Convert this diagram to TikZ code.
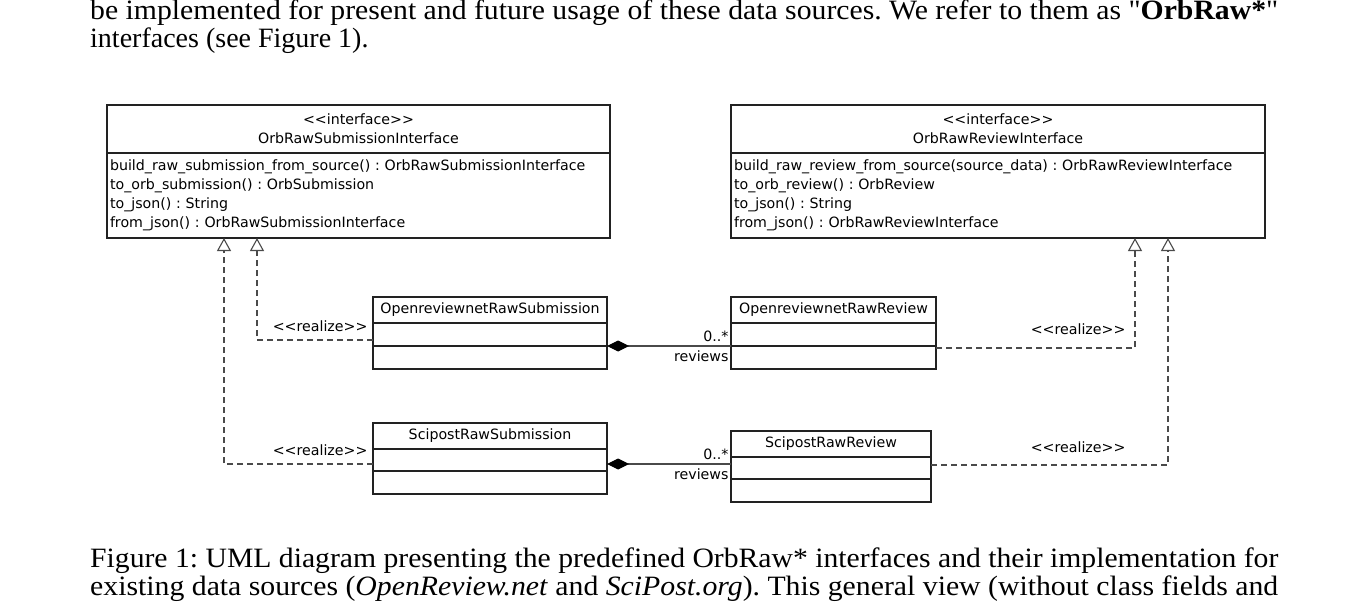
\documentclass[tikz,border=0pt]{standalone}
\usepackage{fontspec}
\usepackage{graphicx}
\setmainfont{Liberation Serif}[Ligatures=TeXOff]
\newfontfamily\umlfont{DejaVu Sans}
\usetikzlibrary{arrows.meta,positioning}
\newcommand{\stereo}[1]{\textless\textless#1\textgreater\textgreater}
\definecolor{umlline}{HTML}{222222}
\definecolor{linkgray}{HTML}{4A4A4A}

\begin{document}
\frenchspacing
\begin{tikzpicture}[x=1pt,y=-1pt,>=Stealth,
  box/.style={draw=umlline,line width=1.1pt,fill=white,inner sep=0pt,outer sep=0pt,
    font=\umlfont\fontsize{14.2}{19}\selectfont},
  realize/.style={draw=linkgray,line width=1.1pt,dash pattern=on 6pt off 4pt,
    -{Triangle[open,length=13pt,width=14pt,fill=white]}},
  compose/.style={draw=linkgray,line width=1.1pt,{Diamond[length=22pt,width=11pt,black]}-},
  lbl/.style={font=\umlfont\fontsize{14.2}{17}\selectfont,inner xsep=2pt,inner ysep=4pt},
  paper/.style={font=\fontsize{28}{28}\selectfont,inner sep=0pt}]
  \useasboundingbox[fill=white] (0,0) rectangle (1368,615);

  % surrounding text of the page
  \node[paper,anchor=base west] (txtA) at (90,20)
    {\resizebox{1188pt}{\height}{be implemented for present and future usage of these data sources. We refer to them as "\textbf{OrbRaw*}"}};
  \node[paper,anchor=base west] (txtB) at (90,48) {interfaces (see Figure 1).};

  % interfaces
  \node[box,anchor=north west,minimum width=503pt,minimum height=48pt,align=center]
    (subhead) at (107,105) {\stereo{interface}\\OrbRawSubmissionInterface};
  \node[box,below=0pt of subhead,minimum width=503pt,minimum height=85pt,
    text width=497pt,align=left] (submeth)
    {build\_raw\_submission\_from\_source() : OrbRawSubmissionInterface\\
     to\_orb\_submission() : OrbSubmission\\
     to\_json() : String\\
     from\_json() : OrbRawSubmissionInterface};

  \node[box,anchor=north west,minimum width=534pt,minimum height=48pt,align=center]
    (revhead) at (731,105) {\stereo{interface}\\OrbRawReviewInterface};
  \node[box,below=0pt of revhead,minimum width=534pt,minimum height=85pt,
    text width=528pt,align=left] (revmeth)
    {build\_raw\_review\_from\_source(source\_data) : OrbRawReviewInterface\\
     to\_orb\_review() : OrbReview\\
     to\_json() : String\\
     from\_json() : OrbRawReviewInterface};

  % implementing classes
  \node[box,anchor=north west,minimum width=234pt,minimum height=26pt]
    (osubhead) at (373,297) {OpenreviewnetRawSubmission};
  \node[box,below=0pt of osubhead,minimum width=234pt,minimum height=23pt] (osubmid) {};
  \node[box,below=0pt of osubmid,minimum width=234pt,minimum height=23pt] (osubbot) {};

  \node[box,anchor=north west,minimum width=205pt,minimum height=26pt]
    (orevhead) at (731,297) {OpenreviewnetRawReview};
  \node[box,below=0pt of orevhead,minimum width=205pt,minimum height=23pt] (orevmid) {};
  \node[box,below=0pt of orevmid,minimum width=205pt,minimum height=23pt] (orevbot) {};

  \node[box,anchor=north west,minimum width=234pt,minimum height=26pt]
    (ssubhead) at (373,423) {ScipostRawSubmission};
  \node[box,below=0pt of ssubhead,minimum width=234pt,minimum height=22pt] (ssubmid) {};
  \node[box,below=0pt of ssubmid,minimum width=234pt,minimum height=23pt] (ssubbot) {};

  \node[box,anchor=north west,minimum width=200pt,minimum height=26pt]
    (srevhead) at (731,431) {ScipostRawReview};
  \node[box,below=0pt of srevhead,minimum width=200pt,minimum height=22pt] (srevmid) {};
  \node[box,below=0pt of srevmid,minimum width=200pt,minimum height=23pt] (srevbot) {};

  % realizations
  \draw[realize] ([yshift=6pt]osubmid.south west)
    node[lbl,anchor=south east,xshift=-3pt,yshift=4pt] {\stereo{realize}}
    -| ([xshift=150pt]submeth.south west);
  \draw[realize] ([yshift=7pt]ssubmid.south west)
    node[lbl,anchor=south east,xshift=-3pt,yshift=4pt] {\stereo{realize}}
    -| ([xshift=117pt]submeth.south west);
  \draw[realize] ([yshift=-2pt]orevmid.south east)
    -| node[lbl,pos=0.5,anchor=south east,xshift=-7pt,yshift=9pt] {\stereo{realize}}
    ([xshift=-130pt]revmeth.south east);
  \draw[realize] ([yshift=-8pt]srevmid.north east)
    -| node[lbl,pos=0.5,anchor=south east,xshift=-40pt,yshift=8pt] {\stereo{realize}}
    ([xshift=-97pt]revmeth.south east);

  % compositions
  \draw[compose] (osubmid.south east) -- (orevmid.south west)
    node[lbl,pos=1,anchor=south east] {0..*}
    node[lbl,pos=1,anchor=north east] {reviews};
  \draw[compose] ([yshift=7pt]ssubmid.south east) -- ([yshift=-7pt]srevmid.north west)
    node[lbl,pos=1,anchor=south east] {0..*}
    node[lbl,pos=1,anchor=north east] {reviews};

  % caption
  \node[paper,anchor=base west] (capA) at (90,567)
    {\resizebox{1188pt}{\height}{Figure 1: UML diagram presenting the predefined OrbRaw* interfaces and their implementation for}};
  \node[paper,anchor=base west] (capB) at (90,595)
    {\resizebox{1188pt}{\height}{existing data sources (\textit{OpenReview.net} and \textit{SciPost.org}). This general view (without class fields and}};
\end{tikzpicture}
\end{document}
